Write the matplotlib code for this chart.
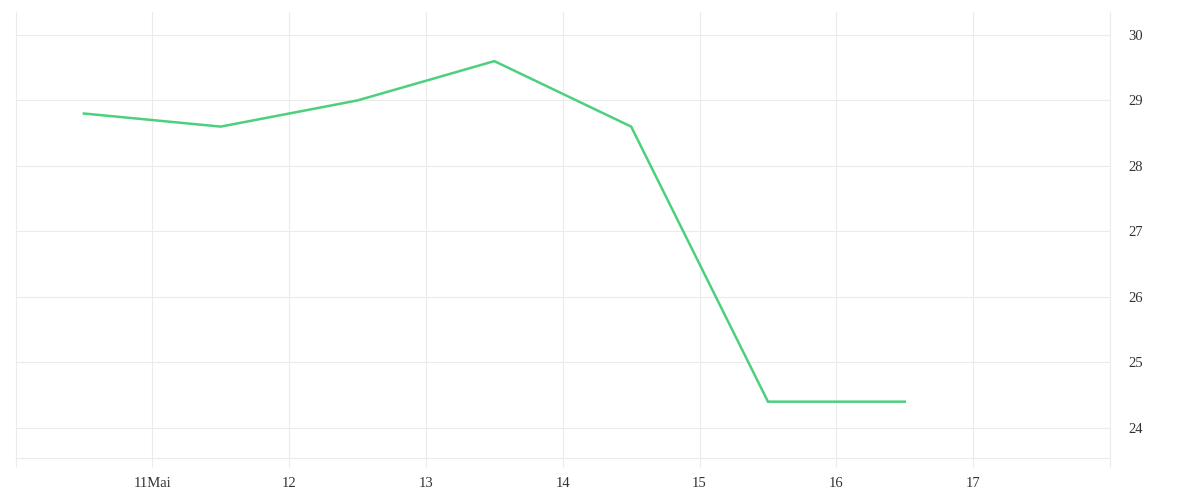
import matplotlib.pyplot as plt
import pandas as pd

# data
times = pd.to_datetime(['2024-05-10 12:00', '2024-05-11 12:00', '2024-05-12 12:00',
                        '2024-05-13 12:00', '2024-05-14 12:00', '2024-05-15 12:00',
                        '2024-05-16 12:00'])
values = [28.8, 28.6, 29.0, 29.6, 28.6, 24.4, 24.4]

tick_days = pd.to_datetime(['2024-05-11', '2024-05-12', '2024-05-13', '2024-05-14',
                            '2024-05-15', '2024-05-16', '2024-05-17'])
tick_labels = ['11Mai', '12', '13', '14', '15', '16', '17']
y_ticks = [24, 25, 26, 27, 28, 29, 30]

grid_c = '#ebebeb'
plt.rcParams['font.family'] = ['Liberation Serif', 'DejaVu Serif']

fig = plt.figure(figsize=(12, 5), dpi=100)
ax = fig.add_axes([15.5 / 1200, 42 / 500, (1110 - 15.5) / 1200, (458 - 12) / 500])

ax.plot(times, values, color='#4cd07d', linewidth=1.8, solid_joinstyle='miter')

ax.set_xlim(pd.Timestamp('2024-05-10'), pd.Timestamp('2024-05-18'))
ax.set_ylim(23.54, 30.35)

ax.set_xticks(tick_days)
ax.set_xticklabels(tick_labels)
ax.set_xticks(pd.to_datetime(['2024-05-10', '2024-05-18']), minor=True)
ax.set_yticks(y_ticks)
ax.yaxis.tick_right()

ax.grid(True, color=grid_c, linewidth=0.8)
ax.set_axisbelow(True)

ax.tick_params(axis='x', which='both', length=6.5, width=0.8, color=grid_c,
               pad=7, labelsize=10.5, labelcolor='#333333')
ax.tick_params(axis='y', length=0, pad=13, labelsize=10.5, labelcolor='#333333')
for lbl in ax.get_yticklabels():
    lbl.set_verticalalignment('center_baseline')

ax.spines['top'].set_visible(False)
for s in ['left', 'right', 'bottom']:
    ax.spines[s].set_color(grid_c)
    ax.spines[s].set_linewidth(0.8)

fig.savefig('out.png', dpi=100)
